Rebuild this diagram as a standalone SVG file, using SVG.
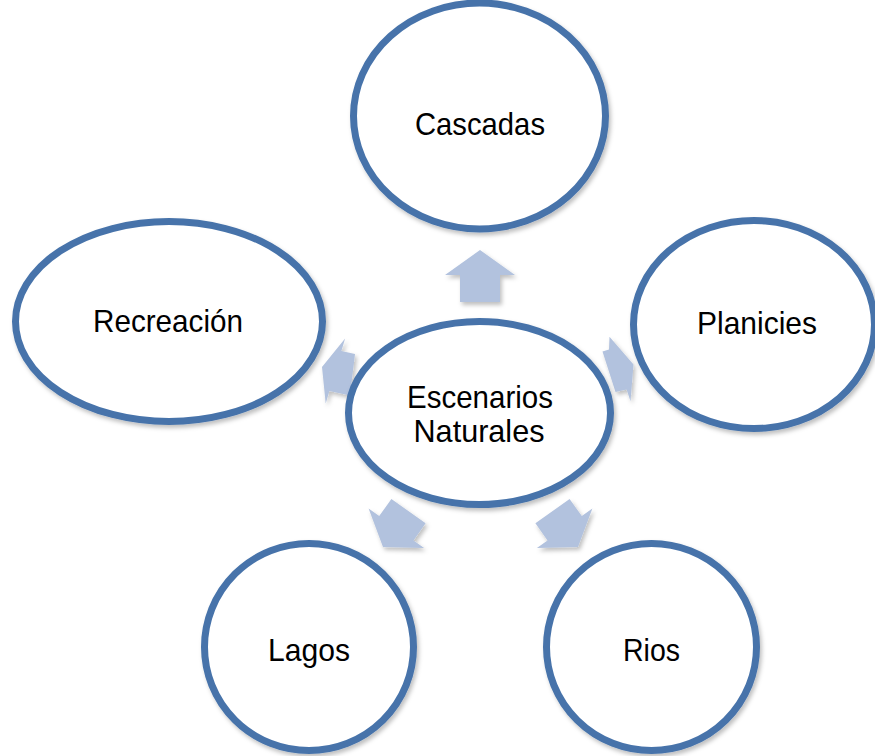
<svg xmlns="http://www.w3.org/2000/svg" width="875" height="756" viewBox="0 0 875 756">
<defs>
<filter id="sh" x="-10%" y="-10%" width="125%" height="125%">
<feDropShadow dx="2" dy="3" stdDeviation="2" flood-color="#000" flood-opacity="0.25"/>
</filter>
</defs>
<style>
.node{fill:#ffffff;stroke:#4773AA;stroke-width:7;filter:url(#sh)}
.arr{fill:#B2C2DE;stroke:none;filter:url(#sh)}
.lbl{font-family:"Liberation Sans",Arial,sans-serif;font-size:32px;fill:#000;text-anchor:middle}
</style>
<rect width="875" height="756" fill="#ffffff"/>
<g id="connectors">
<polygon class="arr" points="480,250 515,275 500,275 500,302 460,302 460,275 445,275"/>
<polygon class="arr" points="383,547 424.1,548 413.5,540.4 425.6,523.3 391.4,499 379.2,516.1 368.6,508.5"/>
<polygon class="arr" points="578,547 536.9,548 547.5,540.4 535.4,523.3 569.6,499 581.8,516.1 592.4,508.5"/>
<polygon class="arr" points="322,367 345.1,338.4 341.4,350.9 355,354 350,395.5 329.4,391.1 325.7,403.6"/>
<polygon class="arr" points="633.5,364.5 630.5,401.3 626.6,389.5 615.5,392 602.5,351.5 609,349.5 609.5,336.7"/>
</g>
<g id="cascadas">
<ellipse class="node" cx="479.5" cy="116" rx="126" ry="113"/>
<text class="lbl" x="480" y="135" textLength="130" lengthAdjust="spacingAndGlyphs">Cascadas</text>
</g>
<g id="recreacion">
<ellipse class="node" cx="169" cy="321.5" rx="153.5" ry="100"/>
<text class="lbl" x="168" y="332" textLength="150" lengthAdjust="spacingAndGlyphs">Recreación</text>
</g>
<g id="planicies">
<ellipse class="node" cx="754" cy="324.5" rx="120.5" ry="104"/>
<text class="lbl" x="757" y="334" textLength="120" lengthAdjust="spacingAndGlyphs">Planicies</text>
</g>
<g id="lagos">
<ellipse class="node" cx="309" cy="647" rx="104.5" ry="103.5"/>
<text class="lbl" x="309" y="661" textLength="82" lengthAdjust="spacingAndGlyphs">Lagos</text>
</g>
<g id="rios">
<ellipse class="node" cx="651.5" cy="647" rx="105" ry="103.5"/>
<text class="lbl" x="651.5" y="661" textLength="57" lengthAdjust="spacingAndGlyphs">Rios</text>
</g>
<g id="escenarios">
<ellipse class="node" cx="479.5" cy="413" rx="131" ry="91.5"/>
<text class="lbl" x="480" y="408" textLength="146" lengthAdjust="spacingAndGlyphs">Escenarios</text>
<text class="lbl" x="479" y="442" textLength="131" lengthAdjust="spacingAndGlyphs">Naturales</text>
</g>
</svg>
